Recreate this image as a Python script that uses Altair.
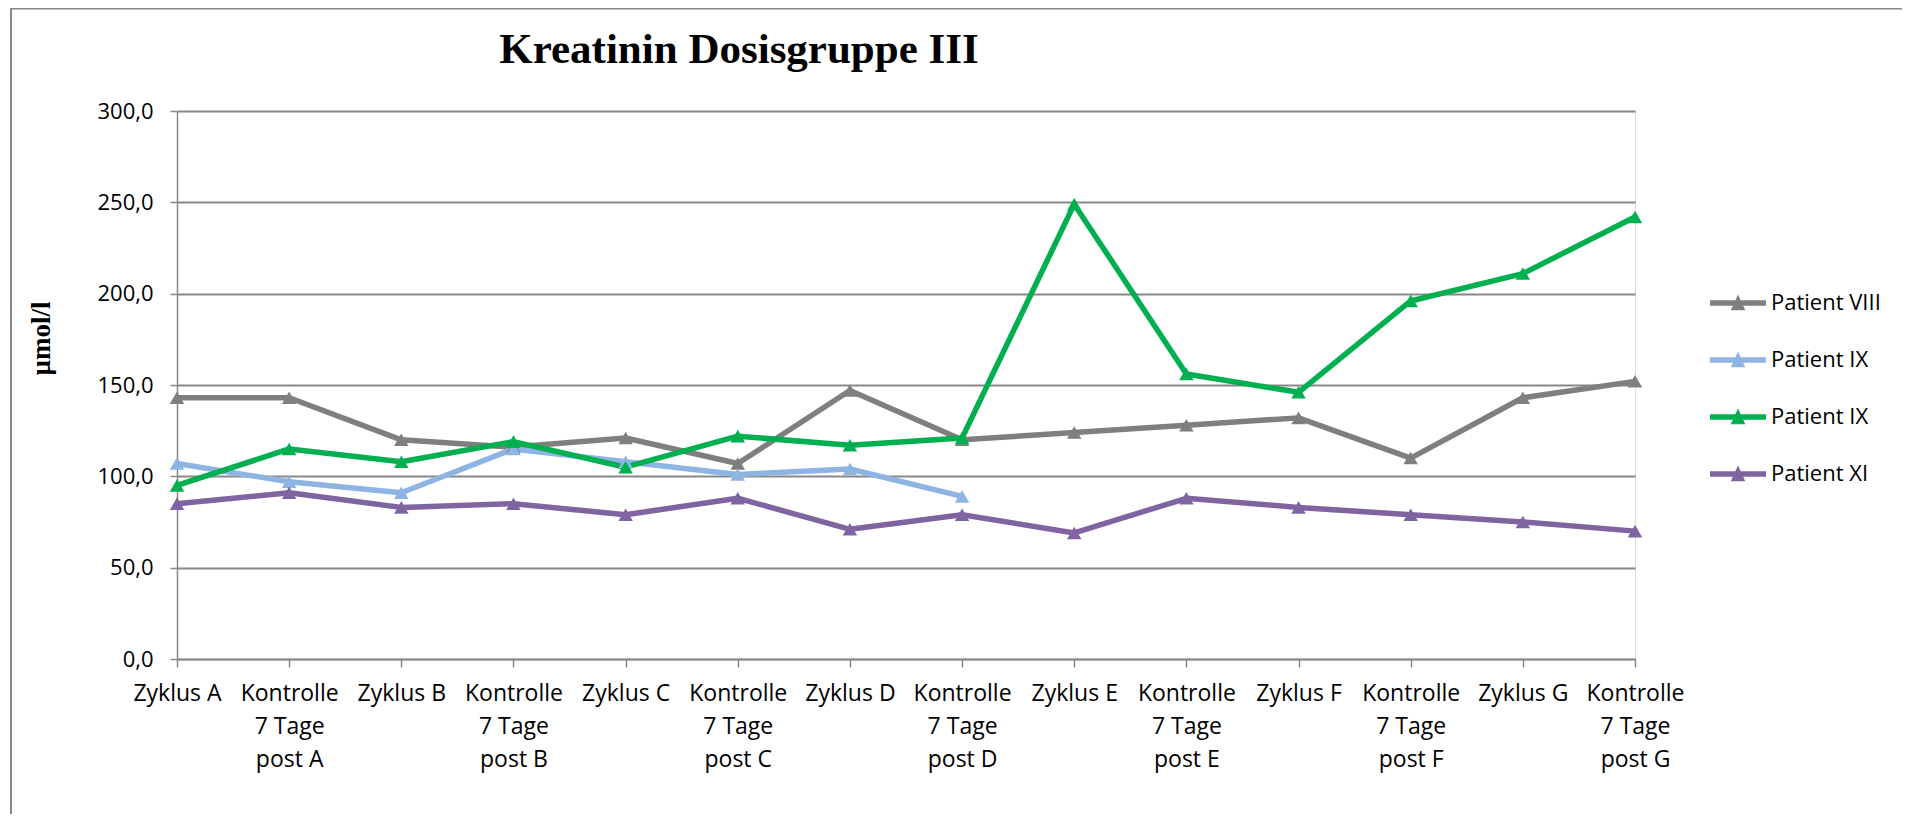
import altair as alt
import pandas as pd

title_text = "Kreatinin Dosisgruppe III"
y_title = "µmol/l"

categories = [
    "Zyklus A", "Kontrolle\n7 Tage\npost A",
    "Zyklus B", "Kontrolle\n7 Tage\npost B",
    "Zyklus C", "Kontrolle\n7 Tage\npost C",
    "Zyklus D", "Kontrolle\n7 Tage\npost D",
    "Zyklus E", "Kontrolle\n7 Tage\npost E",
    "Zyklus F", "Kontrolle\n7 Tage\npost F",
    "Zyklus G", "Kontrolle\n7 Tage\npost G",
]

series_names = ["Patient VIII", "Patient IX", "Patient IX\u200b", "Patient XI"]
series_colors = ["#7F7F7F", "#8DB4E2", "#00B050", "#8064A2"]

patient_viii = [143, 143, 120, 116, 121, 107, 147, 120, 124, 128, 132, 110, 143, 152]
patient_ix_a = [107, 97, 91, 115, 108, 101, 104, 89, None, None, None, None, None, None]
patient_ix_b = [95, 115, 108, 119, 105, 122, 117, 121, 249, 156, 146, 196, 211, 242]
patient_xi = [85, 91, 83, 85, 79, 88, 71, 79, 69, 88, 83, 79, 75, 70]

y_ticks = [0, 50, 100, 150, 200, 250, 300]

rows = []
for name, vals in zip(series_names, [patient_viii, patient_ix_a, patient_ix_b, patient_xi]):
    for i, (cat, v) in enumerate(zip(categories, vals)):
        if v is not None:
            rows.append({"Kategorie": cat, "Wert": v, "Serie": name, "idx": i})
df = pd.DataFrame(rows)

label_font = "Open Sans"
grid_col = "#888888"

legend_path = ("M-1,-0.1L1,-0.1L1,0.1L-1,0.1Z "
               "M-0.26,0.26L0,-0.3L0.26,0.26Z")

x_enc = alt.X(
    "Kategorie:N",
    sort=categories,
    scale=alt.Scale(type="point", padding=0),
    axis=alt.Axis(
        title=None,
        labelExpr="split(datum.label, '\\n')",
        labelAngle=0,
        labelFont=label_font,
        labelFontSize=23,
        labelColor="#000000",
        labelLineHeight=33,
        labelPadding=15,
        labelBaseline="top",
        tickSize=8,
        tickColor=grid_col,
        tickWidth=1.5,
        domainColor=grid_col,
        domainWidth=1.5,
        grid=False,
    ),
)

y_enc = alt.Y(
    "Wert:Q",
    scale=alt.Scale(domain=[0, 300], nice=False, zero=True),
    axis=alt.Axis(
        values=y_ticks,
        title=y_title,
        titleFont="Liberation Serif",
        titleFontSize=27,
        titleFontWeight="bold",
        titleColor="#000000",
        titleAngle=270,
        titleX=-136,
        titleY=227,
        titleAlign="center",
        titleBaseline="middle",
        labelExpr="replace(format(datum.value, '.1f'), '.', ',')",
        labelFont=label_font,
        labelFontSize=22,
        labelColor="#000000",
        labelPadding=17,
        tickSize=7,
        tickColor=grid_col,
        tickWidth=1.5,
        domainColor=grid_col,
        domainWidth=1.5,
        gridColor=grid_col,
        gridWidth=2,
    ),
)

color_enc = alt.Color(
    "Serie:N",
    scale=alt.Scale(domain=series_names, range=series_colors),
    legend=alt.Legend(
        title=None,
        orient="none",
        legendX=1533,
        legendY=164,
        symbolType=legend_path,
        symbolSize=3136,
        symbolStrokeWidth=0,
        symbolOpacity=1,
        labelFont=label_font,
        labelFontSize=22,
        labelColor="#000000",
        labelOffset=5,
        rowPadding=18,
        padding=0,
    ),
)

base = alt.Chart(df)

lines = base.mark_line(strokeWidth=5.5, strokeJoin="round", strokeCap="round").encode(
    x=x_enc, y=y_enc, color=color_enc, detail="Serie:N", order="idx:Q"
)
points = base.mark_point(shape="triangle-up", filled=True, size=210, opacity=1).encode(
    x=x_enc, y=y_enc, color=color_enc
)

title_mark = alt.Chart(alt.Data(values=[{"t": title_text}])).mark_text(
    font="Liberation Serif", fontSize=43, fontWeight="bold", align="center",
    baseline="alphabetic", color="#000000"
).encode(text="t:N", x=alt.value(562), y=alt.value(-48.5))

frame = alt.Chart(alt.Data(values=[{"a": 1}])).mark_rect(
    fillOpacity=0, stroke="#888888", strokeWidth=2
).encode(x=alt.value(-166), x2=alt.value(1740), y=alt.value(-102.5), y2=alt.value(900))

chart = alt.layer(frame, lines, points, title_mark).properties(
    width=1458,
    height=548,
    autosize=alt.AutoSizeParams(type="none"),
    padding={"left": 169, "top": 103, "right": 267, "bottom": 155},
).configure_view(stroke=None).configure(background="#ffffff")

chart.save("out.html", embed_options={"renderer": "svg", "actions": False})
